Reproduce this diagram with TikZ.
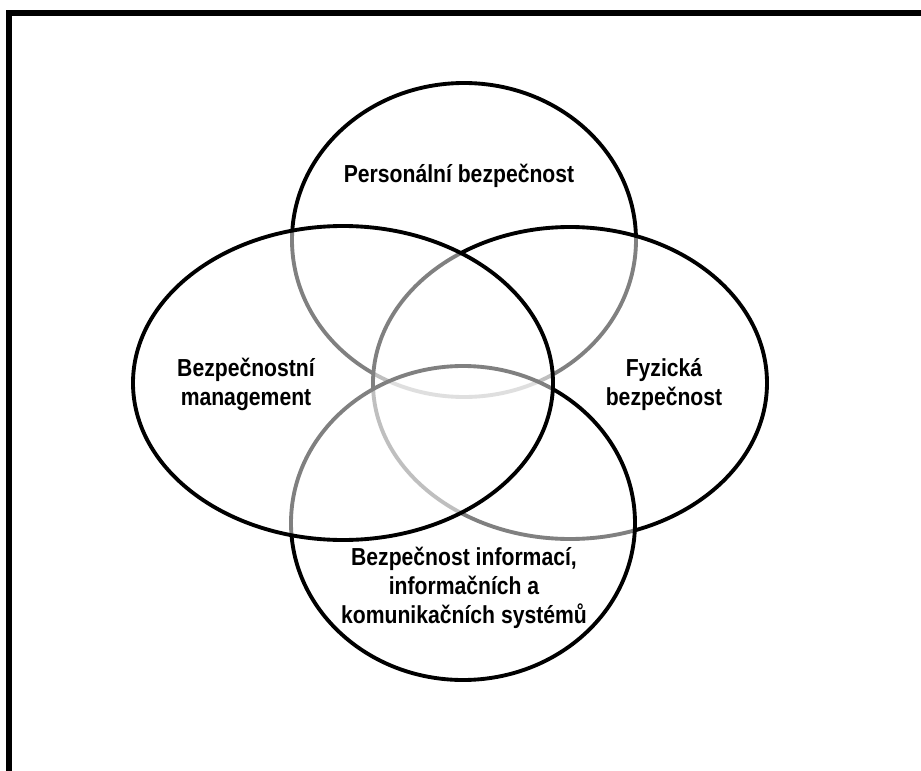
\documentclass[tikz,border=0pt]{standalone}
\usepackage{fontspec}
\setmainfont{Liberation Sans}[FakeStretch=0.86]

\begin{document}
\begin{tikzpicture}[x=0.02cm, y=-0.02cm,% pixel units, y downwards
        ring/.style={line width=2.2pt, draw=black, fill=white, fill opacity=0.5},% later rings grey the earlier ones
        areatext/.style={font=\bfseries\fontsize{14}{16.5}\selectfont, align=center}]
\useasboundingbox (0,0) rectangle (921,771);
\draw[line width=3.4pt, line join=miter] (9,771) -- (9,13) -- (921,13); % frame, top and left only

\foreach \cx/\cy/\rx/\ry in {464/240/172/157,% personal
                             570/383/197/156,% physical
                             463/523/172/157,% information
                             343/383/210/157}{ % management, drawn last
\filldraw[ring] (\cx,\cy) ellipse [x radius=\rx, y radius=\ry];
}

\node[areatext] (pers) at (459,176) {Personální bezpečnost};
\node[areatext] (mgmt) at (246,384) {Bezpečnostní\\management};
\node[areatext] (fyz) at (664,385) {Fyzická\\bezpečnost};
\node[areatext] (info) at (464,588) {Bezpečnost informací,\\informačních a\\komunikačních systémů};
\end{tikzpicture}
\end{document}
